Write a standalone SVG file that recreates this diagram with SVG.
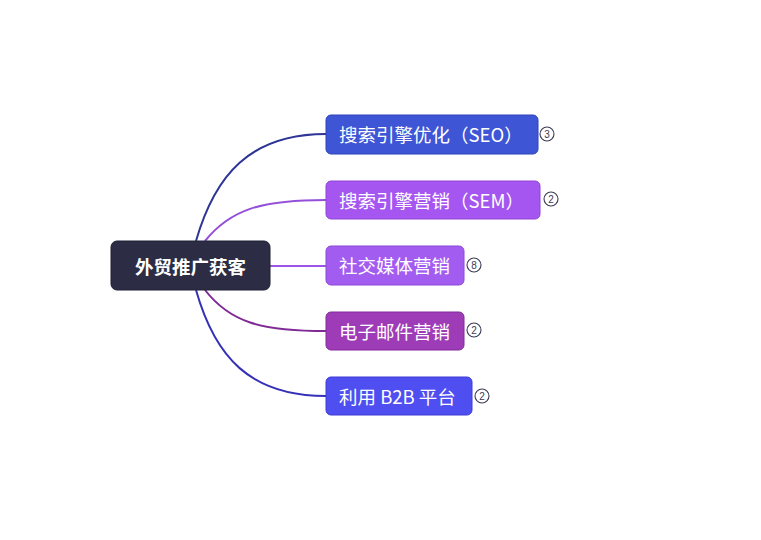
<svg xmlns="http://www.w3.org/2000/svg" width="761" height="540" viewBox="0 0 761 540">
<style>
.t{font-family:"Noto Sans CJK SC","Liberation Sans",sans-serif;fill:#fff;font-size:18.5px;dominant-baseline:central}
.r{font-weight:bold;font-size:18.5px}
.b circle{fill:#fff;stroke:#3a3a55;stroke-width:1.1}
.b text{font-family:"Liberation Sans",sans-serif;font-size:10px;fill:#3a3a55;text-anchor:middle;dominant-baseline:central}
.c path{fill:none;stroke-width:2}
</style>
<rect width="761" height="540" fill="#fff"/>
<g class="c">
<path d="M196,241 C215,175 250,134 326,134" stroke="#2e3597"/>
<path d="M205,241 C230,210 260,200 326,200" stroke="#9450d8"/>
<path d="M270,266 L326,266" stroke="#9a55e6"/>
<path d="M205,290 C230,322 260,331 326,331" stroke="#7f2a95"/>
<path d="M196,290 C215,357 250,396 326,396" stroke="#3430b8"/>
</g>
<g id="root">
<rect x="111" y="241" width="159" height="49" rx="6" fill="#2c2d44" stroke="#1f2033"/>
<text class="t r" x="190.5" y="265.5" text-anchor="middle">外贸推广获客</text>
</g>
<g id="n1">
<rect x="326" y="115" width="212" height="39" rx="5" fill="#3e55d6" stroke="#2f44b8"/>
<text class="t" x="339" y="134">搜索引擎优化（SEO）</text>
<g class="b"><circle cx="547" cy="134" r="7"/><text x="547" y="134.5">3</text></g>
</g>
<g id="n2">
<rect x="326" y="181" width="214" height="38" rx="5" fill="#a656f0" stroke="#8f45d6"/>
<text class="t" x="339" y="199.5">搜索引擎营销（SEM）</text>
<g class="b"><circle cx="551" cy="199" r="7"/><text x="551" y="199.5">2</text></g>
</g>
<g id="n3">
<rect x="326" y="246" width="138" height="39" rx="5" fill="#a35cf0" stroke="#8c48d8"/>
<text class="t" x="339" y="265">社交媒体营销</text>
<g class="b"><circle cx="474" cy="265" r="7"/><text x="474" y="265.5">8</text></g>
</g>
<g id="n4">
<rect x="326" y="312" width="138" height="38" rx="5" fill="#9e3cb8" stroke="#84299c"/>
<text class="t" x="339" y="330.5">电子邮件营销</text>
<g class="b"><circle cx="474" cy="330" r="7"/><text x="474" y="330.5">2</text></g>
</g>
<g id="n5">
<rect x="326" y="377" width="146" height="38" rx="5" fill="#4f4ef0" stroke="#3d3cd4"/>
<text class="t" x="339" y="395.5">利用 B2B 平台</text>
<g class="b"><circle cx="482" cy="396" r="7"/><text x="482" y="396.5">2</text></g>
</g>
</svg>
